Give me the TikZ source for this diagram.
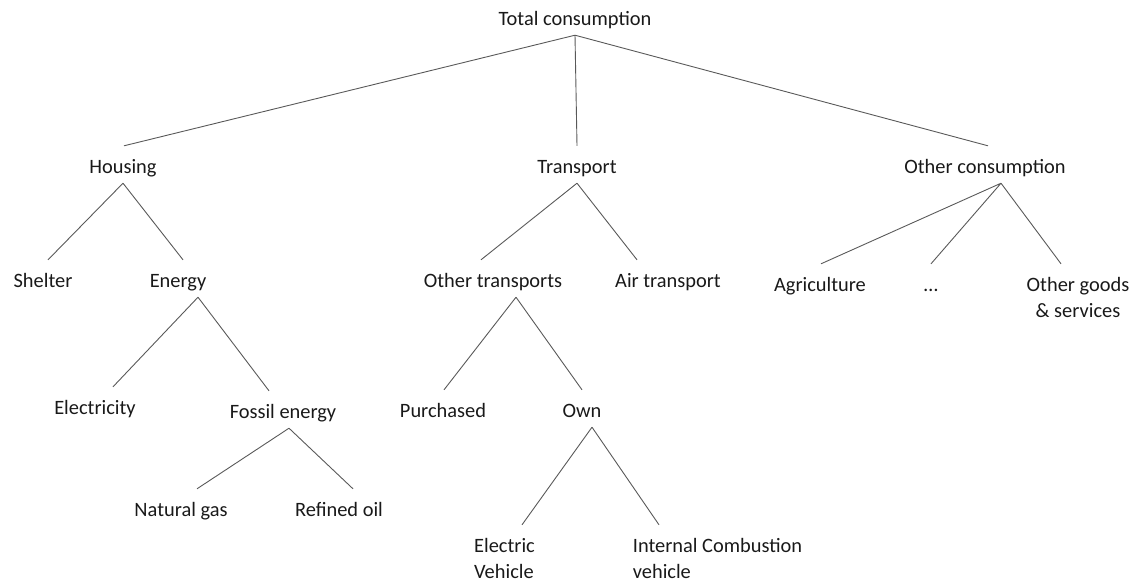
\documentclass[tikz,border=0pt]{standalone}
\usepackage{fontspec}
\setmainfont{Carlito}
\usepackage{tikz}

\begin{document}
\begin{tikzpicture}[x=1pt, y=-1pt,
  every node/.style={anchor=base, inner sep=0pt, text height=27pt, text depth=10pt,
    font=\fontsize{20.4}{26}\selectfont, text=black!90},
  twoline/.style={text height=53pt},
  branch/.style={draw=black!65, line width=0.9pt}]
  \useasboundingbox (0,0) rectangle (1142,582);
  \node (total) at (575,25) {Total consumption};
  \node (housing) at (123,173) {Housing};
  \node (transport) at (577,173) {Transport};
  \node (othercons) at (985,173) {Other consumption};
  \node (shelter) at (43,287) {Shelter};
  \node (energy) at (178,287) {Energy};
  \node (othertr) at (493,287) {Other transports};
  \node (air) at (668,287) {Air transport};
  \node (agri) at (820,291) {Agriculture};
  \node (dots) at (931,291) {…};
  \node[twoline, align=center] (goods) at (1078,317) {Other goods\\\& services};
  \node (elec) at (95,414) {Electricity};
  \node (fossil) at (283,418) {Fossil energy};
  \node (purchased) at (443,417) {Purchased};
  \node (own) at (582,417) {Own};
  \node (gas) at (181,516) {Natural gas};
  \node (oil) at (339,516) {Refined oil};
  \node[twoline, align=left] (ev) at (504.5,578) {Electric\\Vehicle};
  \node[twoline, align=left] (icv) at (717.5,578) {Internal Combustion\\vehicle};

  \draw[branch] (total.south) -- ([xshift=1pt]housing.north)
    (total.south) -- (transport.north)
    (total.south) -- ([xshift=3pt]othercons.north);
  \draw[branch] (housing.south) -- ([xshift=5pt]shelter.north)
    (housing.south) -- ([xshift=5pt]energy.north);
  \draw[branch] ([xshift=20pt]energy.south) -- ([xshift=18pt]elec.north)
    ([xshift=20pt]energy.south) -- ([xshift=-14pt]fossil.north);
  \draw[branch] ([xshift=6pt]fossil.south) -- ([xshift=16pt]gas.north)
    ([xshift=6pt]fossil.south) -- ([xshift=14pt]oil.north);
  \draw[branch] (transport.south) -- ([xshift=-12pt]othertr.north)
    (transport.south) -- ([xshift=-31pt]air.north);
  \draw[branch] ([xshift=23pt]othertr.south) -- ([xshift=1pt]purchased.north)
    ([xshift=23pt]othertr.south) -- (own.north);
  \draw[branch] ([xshift=10pt]own.south) -- ([xshift=17.5pt]ev.north)
    ([xshift=10pt]own.south) -- ([xshift=-58.5pt]icv.north);
  \draw[branch] ([xshift=16pt]othercons.south) -- ([xshift=1pt]agri.north)
    ([xshift=16pt]othercons.south) -- (dots.north)
    ([xshift=16pt]othercons.south) -- ([xshift=-17pt]goods.north);
\end{tikzpicture}
\end{document}
